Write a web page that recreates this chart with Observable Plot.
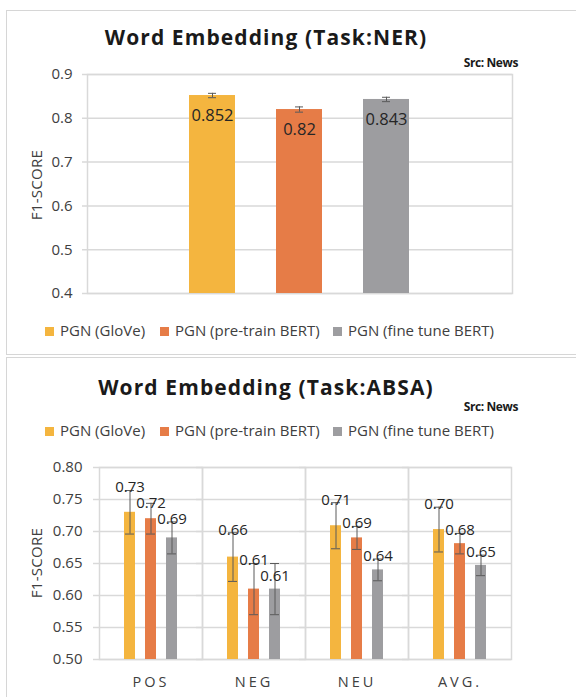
<!DOCTYPE html>
<html><head><meta charset="utf-8">
<script src="https://cdn.jsdelivr.net/npm/d3@7"></script>
<script src="https://cdn.jsdelivr.net/npm/@observablehq/plot@0.6"></script>
<style>
body{margin:0;width:576px;height:697px;overflow:hidden;background:#fff;font-family:"Open Sans",sans-serif;position:relative;}
.panel{position:absolute;left:6px;width:620px;border:1.5px solid #d6d6d6;background:#fff;box-sizing:border-box;}
.title{position:absolute;left:0;width:532px;text-align:center;font-weight:bold;font-size:21px;line-height:24px;letter-spacing:1.1px;color:#1a1a1a;}
.src{position:absolute;right:58px;font-weight:bold;font-size:12px;line-height:16px;letter-spacing:-0.4px;color:#1a1a1a;}
.leg{position:absolute;font-size:15px;line-height:18px;color:#404040;white-space:nowrap;}
.leg span.sw{display:inline-block;width:9px;height:9px;margin-right:6px;vertical-align:0px;}
.ylab{position:absolute;font-size:15px;line-height:16px;letter-spacing:0.3px;color:#404040;transform:translate(-50%,-50%) rotate(-90deg);white-space:nowrap;}
.chart{position:absolute;left:0;}
</style></head>
<body>
<div class="panel" style="top:10px;height:345px"></div>
<div class="panel" style="top:357px;height:360px"></div>
<div class="title" style="top:25px">Word Embedding (Task:NER)</div>
<div class="src" style="top:55px">Src: News</div>
<div class="title" style="top:375px">Word Embedding (Task:ABSA)</div>
<div class="src" style="top:399px">Src: News</div>
<div class="ylab" style="left:36px;top:185px">F1-SCORE</div>
<div class="ylab" style="left:36px;top:563px">F1-SCORE</div>
<div id="leg1"></div>
<div id="leg2"></div>
<div class="chart" id="c1" style="top:60px"></div>
<div class="chart" id="c2" style="top:450px"></div>
<script>
// ---- data ----
const series = ["PGN (GloVe)", "PGN (pre-train BERT)", "PGN (fine tune BERT)"];
const colors = ["#F4B53F", "#E67C47", "#9D9DA0"];

// NER panel
const nerScores = [0.852, 0.82, 0.843];
const nerErrors = [0.005, 0.006, 0.005];
const nerTicks = [0.4, 0.5, 0.6, 0.7, 0.8, 0.9];

// ABSA panel
const categories = ["POS", "NEG", "NEU", "AVG."];
const absaGlove = [0.73, 0.66, 0.709, 0.703];
const absaPretrain = [0.72, 0.61, 0.69, 0.681];
const absaFinetune = [0.69, 0.61, 0.64, 0.647];
const absaGloveErr = [0.034, 0.038, 0.036, 0.035];
const absaPretrainErr = [0.024, 0.04, 0.018, 0.016];
const absaFinetuneErr = [0.025, 0.04, 0.017, 0.016];
const absaTicks = [0.5, 0.55, 0.6, 0.65, 0.7, 0.75, 0.8];

// ---- legends ----
const legX = [45, 160, 333];
function legend(id, top) {
  const el = document.getElementById(id);
  series.forEach((s, i) => {
    const d = document.createElement("div");
    d.className = "leg";
    d.style.left = legX[i] + "px";
    d.style.top = top + "px";
    d.innerHTML = `<span class="sw" style="background:${colors[i]}"></span>${s}`;
    el.appendChild(d);
  });
}
legend("leg1", 321);
legend("leg2", 421);

const grid = "#d9d9d9";
const errC = "#5a5a5a";

// ---- NER chart ----
const ner = series.map((s, i) => ({series: s, score: nerScores[i], err: nerErrors[i]}));
const c1 = Plot.plot({
  width: 576, height: 250,
  marginTop: 14, marginBottom: 17, marginLeft: 87, marginRight: 64,
  style: {fontFamily: "Open Sans", fontSize: "15px", color: "#404040", background: "transparent"},
  x: {domain: series, paddingInner: 0.47, paddingOuter: 1.16, axis: null},
  y: {domain: [nerTicks[0], nerTicks[nerTicks.length - 1]], axis: null},
  color: {domain: series, range: colors},
  marks: [
    Plot.ruleY(nerTicks, {stroke: grid, strokeWidth: 1.5, insetLeft: -5}),
    Plot.frame({stroke: grid, strokeWidth: 1.5}),
    Plot.barY(ner, {x: "series", y1: nerTicks[0], y2: "score", fill: "series"}),
    Plot.ruleX(ner, {x: "series", y1: d => d.score - d.err, y2: d => d.score + d.err, stroke: errC}),
    Plot.tickY(ner, {x: "series", y: d => d.score - d.err, stroke: errC, insetLeft: 19, insetRight: 19}),
    Plot.tickY(ner, {x: "series", y: d => d.score + d.err, stroke: errC, insetLeft: 19, insetRight: 19}),
    Plot.text(ner, {x: "series", y: "score", text: d => String(d.score), dy: 20, fontSize: 16.5, fill: "#262626"}),
    Plot.axisY({ticks: nerTicks, tickSize: 0, tickPadding: 15, tickFormat: d => d.toFixed(1), label: null})
  ]
});
document.getElementById("c1").appendChild(c1);

// ---- ABSA chart ----
const absaS = [absaGlove, absaPretrain, absaFinetune];
const absaE = [absaGloveErr, absaPretrainErr, absaFinetuneErr];
const absa = categories.flatMap((c, j) => {
  let prev = null;
  return series.map((s, i) => {
    const score = absaS[i][j], err = absaE[i][j];
    // label sits at the top of the error bar; if it would collide with the
    // previous label of the same group, it is pushed below that one
    let labelAt = score + err;
    if (prev !== null && Math.abs(labelAt - prev) < 0.022) labelAt = prev - 0.025;
    prev = labelAt;
    return {category: c, series: s, score, err, labelAt};
  });
});
const c2 = Plot.plot({
  width: 576, height: 245,
  marginTop: 17, marginBottom: 36, marginLeft: 97, marginRight: 64,
  style: {fontFamily: "Open Sans", fontSize: "15px", color: "#404040", background: "transparent"},
  fx: {domain: categories, padding: 0, label: null},
  x: {domain: series, paddingInner: 0.47, paddingOuter: 1.15, axis: null},
  y: {domain: [absaTicks[0], absaTicks[absaTicks.length - 1]], axis: null},
  color: {domain: series, range: colors},
  marks: [
    Plot.ruleY(absaTicks, {stroke: grid, strokeWidth: 1.5, insetLeft: -6}),
    Plot.frame({stroke: grid, strokeWidth: 1.5}),
    Plot.barY(absa, {fx: "category", x: "series", y1: absaTicks[0], y2: "score", fill: "series"}),
    Plot.ruleX(absa, {fx: "category", x: "series", y1: d => d.score - d.err, y2: d => d.score + d.err, stroke: errC}),
    Plot.tickY(absa, {fx: "category", x: "series", y: d => d.score - d.err, stroke: errC, insetLeft: 1, insetRight: 1}),
    Plot.tickY(absa, {fx: "category", x: "series", y: d => d.score + d.err, stroke: errC, insetLeft: 1, insetRight: 1}),
    Plot.text(absa, {fx: "category", x: "series", y: "labelAt", dy: -3, text: d => d.score.toFixed(2), fontSize: 15, fill: "#262626"}),
    Plot.axisY({ticks: absaTicks, tickSize: 0, tickPadding: 17, tickFormat: d => d.toFixed(2), label: null}),
    Plot.axisFx({anchor: "bottom", tickSize: 0, tickPadding: 17, label: null, fontSize: 14.5})
  ]
});
document.getElementById("c2").appendChild(c2);
d3.select(c2).selectAll('[aria-label="fx-axis tick label"] text').attr("letter-spacing", "3px");
</script>
</body></html>
